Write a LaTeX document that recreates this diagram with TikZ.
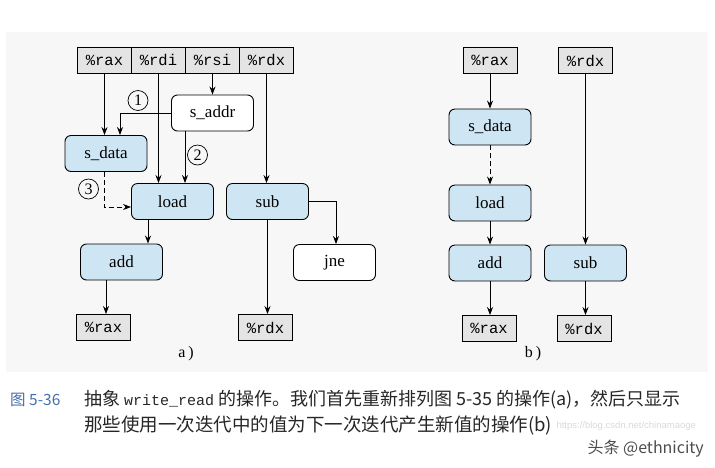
\documentclass[tikz,border=0pt]{standalone}
\usepackage{fontspec}
\setmainfont{Liberation Serif}
\setmonofont{Liberation Mono}
\newfontfamily\cjk{Noto Sans CJK SC}
\newfontfamily\wmfont{Liberation Sans}
\newfontfamily\capmono{Liberation Mono}
\usetikzlibrary{arrows.meta, positioning}
\definecolor{opblue}{RGB}{206, 230, 243}
\definecolor{reggray}{RGB}{228, 228, 228}
\definecolor{capblue}{RGB}{70, 110, 170}
\definecolor{paperbg}{RGB}{247, 247, 247}

\begin{document}
\begin{tikzpicture}[x=1pt, y=-1pt,
  reg/.style={draw, line width=0.9pt, fill=reggray, minimum width=54pt, minimum height=26pt, inner sep=0pt, font=\ttfamily\fontsize{15.5}{15.5}\selectfont},
  op/.style={draw, line width=0.9pt, fill=opblue, rounded corners=6pt, minimum width=82pt, minimum height=36pt, inner sep=0pt, font=\fontsize{17}{17}\selectfont},
  opw/.style={op, fill=white},
  num/.style={draw, circle, line width=0.7pt, minimum size=20pt, inner sep=0pt, font=\fontsize{16}{16}\selectfont},
  arr/.style={-{Stealth[length=8pt, width=6pt]}, line width=0.8pt},
  ]
  \useasboundingbox (0, 0) rectangle (715, 467);
  \fill[paperbg] (6, 32) rectangle (708, 372);

  % a) registers
  \node[reg] (ra)  at (104.5, 60) {\%rax};
  \node[reg] (rdi) at (158.5, 60) {\%rdi};
  \node[reg] (rsi) at (212.5, 60) {\%rsi};
  \node[reg] (rd)  at (266.5, 60) {\%rdx};

  % a) operations
  \node[opw] (saddr) at (212.5, 113) {s\_addr};
  \node[op]  (sda)   at (106, 153.5) {s\_data};
  \node[op]  (lda)   at (172.5, 201.5) {load};
  \node[op]  (suba)  at (267.5, 201.5) {sub};
  \node[op]  (adda)  at (121.5, 262) {add};
  \node[opw] (jne)   at (334.5, 262.5) {jne};

  \node[reg] (rao) at (103.5, 327.5) {\%rax};
  \node[reg] (rdo) at (265.5, 327.5) {\%rdx};

  \node[num] (n1) at (138, 100.5) {1};
  \node[num] (n2) at (197.5, 155) {2};
  \node[num] (n3) at (88.5, 189) {3};

  \draw[arr] (ra) -- (ra |- sda.north);
  \draw[arr] (rdi) -- (rdi |- lda.north);
  \draw[arr] (rsi) -- (rsi |- saddr.north);
  \draw[arr] (rd) -- (rd |- suba.north);
  \draw[arr] (saddr.west) -| ([xshift=14pt]sda.north);
  \draw[arr] ([xshift=-27.5pt]saddr.south) -- ([xshift=12.5pt]lda.north);
  \draw[arr, dashed, dash pattern=on 5pt off 3pt] ([xshift=-2pt]sda.south) |- ([yshift=-5.5pt]lda.west);
  \draw[arr] (suba.east) -| ([xshift=1.5pt]jne.north);
  \draw[arr] (suba.south) -- (suba.south |- rdo.north);
  \draw[arr] ([xshift=-24.5pt]lda.south) -- ([xshift=-24.5pt]lda.south |- adda.north);
  \draw[arr] ([xshift=-15.5pt]adda.south) -- ([xshift=-15.5pt]adda.south |- rao.north);

  \node[font=\fontsize{16}{16}\selectfont] (capa) at (186, 354) {a\kern3pt)};

  % b) only the loop-carried chains
  \node[reg] (rb)  at (490, 60.5) {\%rax};
  \node[reg] (rdb) at (585.5, 60.5) {\%rdx};
  \node[op]  (sdb)  at (490, 127) {s\_data};
  \node[op]  (ldb)  at (490, 203) {load};
  \node[op]  (addb) at (490, 263) {add};
  \node[op]  (subb) at (585.5, 263) {sub};
  \node[reg] (rbo)  at (489, 328.5) {\%rax};
  \node[reg] (rdbo) at (584, 328.5) {\%rdx};

  \draw[arr] (rb) -- (sdb);
  \draw[arr, dashed, dash pattern=on 5pt off 3pt] (sdb) -- (ldb);
  \draw[arr] (ldb) -- (addb);
  \draw[arr] (addb) -- (addb |- rbo.north);
  \draw[arr] (rdb) -- (subb);
  \draw[arr] (subb) -- (subb |- rdbo.north);

  \node[font=\fontsize{16}{16}\selectfont] (capb) at (533, 354) {b\kern3pt)};

  % Caption
  \node[anchor=west, font=\wmfont\fontsize{9.5}{9.5}\selectfont, text=gray!30] (csdn) at (553, 426) {https://blog.csdn.net/chinamaoge};
  \node[anchor=west, inner sep=0pt, font=\cjk\fontsize{15.5}{15.5}\selectfont, text=capblue] (fig) at (10, 400) {图 5-36};
  \node[anchor=west, inner sep=0pt, font=\cjk\fontsize{18}{18}\selectfont, text=black!85] (cap1) at (84, 400) {抽象 {\capmono\fontsize{15}{15}\selectfont write\_read} 的操作。我们首先重新排列图 5-35 的操作(a)，然后只显示};
  \node[anchor=west, inner sep=0pt, font=\cjk\fontsize{18.5}{18.5}\selectfont, text=black!85] (cap2) at (84, 425) {那些使用一次迭代中的值为下一次迭代产生新值的操作(b)};
  \node[anchor=east, inner sep=0pt, font=\cjk\fontsize{16}{16}\selectfont, text=black!70] (wm) at (704, 449) {头条 @ethnicity};
\end{tikzpicture}
\end{document}
